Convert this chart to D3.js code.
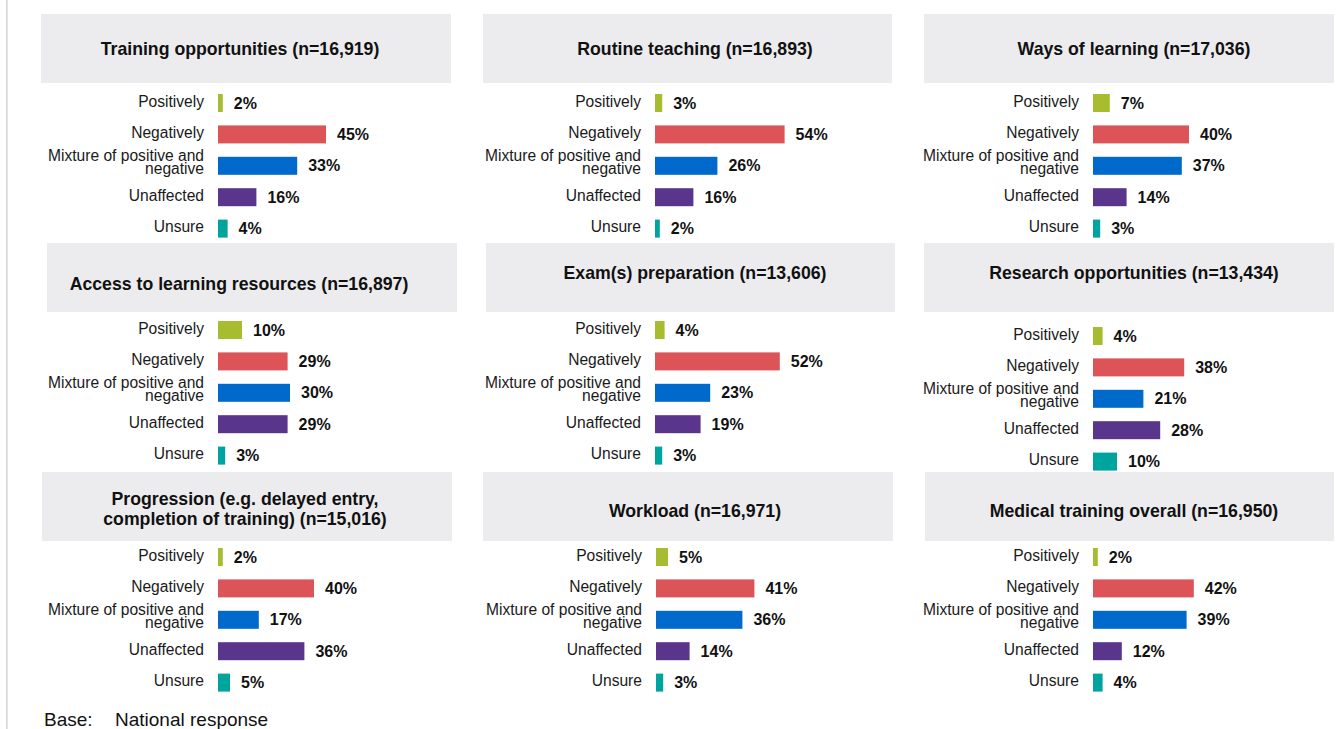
<!DOCTYPE html>
<html>
<head>
<meta charset="utf-8">
<script src="https://cdn.jsdelivr.net/npm/d3@7"></script>
<style>
  html, body { margin: 0; padding: 0; background: #ffffff; }
  svg { display: block; font-family: "Liberation Sans", Arial, Helvetica, sans-serif; }
</style>
</head>
<body>
<svg id="chart" width="1342" height="729"></svg>
<script>
// Response categories (one bar each per panel)
const categories = ["Positively", "Negatively", "Mixture of positive and negative", "Unaffected", "Unsure"];

// Panel topics and sample sizes
const topics = [
  "Training opportunities",
  "Routine teaching",
  "Ways of learning",
  "Access to learning resources",
  "Exam(s) preparation",
  "Research opportunities",
  "Progression (e.g. delayed entry, completion of training)",
  "Workload",
  "Medical training overall"
];
const sampleSizes = [16919, 16893, 17036, 16897, 13606, 13434, 15016, 16971, 16950];

// Percentage of respondents per category, one entry per topic
const positively = [2, 3, 7, 10, 4, 4, 2, 5, 2];
const negatively = [45, 54, 40, 29, 52, 38, 40, 41, 42];
const mixture    = [33, 26, 37, 30, 23, 21, 17, 36, 39];
const unaffected = [16, 16, 14, 29, 19, 28, 36, 14, 12];
const unsure     = [4, 2, 3, 3, 3, 10, 5, 3, 4];

const baseLabel = "Base:";
const baseText = "National response";

const seriesValues = [positively, negatively, mixture, unaffected, unsure];
const colors = ["#a7bd2f", "#dc5457", "#0069cc", "#5a358c", "#00a49f"];

// Placement of each panel on the page
const panelLayout = [
  { box: [41, 14, 410, 69],  titleX: 240,  titleY: 55,  barX: 218,  barTop: 94 },
  { box: [483, 14, 409, 69], titleX: 695,  titleY: 55,  barX: 655,  barTop: 94 },
  { box: [924, 14, 410, 69], titleX: 1134, titleY: 55,  barX: 1093, barTop: 94 },
  { box: [47, 243, 410, 69], titleX: 239,  titleY: 290, barX: 218,  barTop: 321 },
  { box: [486, 243, 409, 69],titleX: 695,  titleY: 279, barX: 655,  barTop: 321 },
  { box: [924, 243, 410, 69],titleX: 1134, titleY: 279, barX: 1093, barTop: 327 },
  { box: [42, 472, 410, 69], titleX: 245,  titleY: 505, barX: 218,  barTop: 548 },
  { box: [483, 472, 410, 69],titleX: 695,  titleY: 517, barX: 656,  barTop: 548 },
  { box: [925, 472, 409, 69],titleX: 1134, titleY: 517, barX: 1093, barTop: 548 }
];

const STEP = 31.4;
const BAR_H = 18;
const PX_PER_PCT = 2.4;
const TITLE_SIZE = "17.7px";
const LABEL_SIZE = "15.6px";
const VALUE_SIZE = "16px";

const svg = d3.select("#chart");
const fmt = d3.format(",");

// thin rule down the left edge
svg.append("rect").attr("x", 6).attr("y", 0).attr("width", 1.6).attr("height", 729).attr("fill", "#d6d6d6");

// wrap a string into lines no wider than maxWidth, measured with a temporary text node
function wrapLines(str, maxWidth, style) {
  const probe = svg.append("text").attr("visibility", "hidden")
    .style("font-size", style.size).style("font-weight", style.weight);
  const words = str.split(" ");
  const lines = [];
  let cur = "";
  words.forEach(w => {
    const test = cur ? cur + " " + w : w;
    probe.text(test);
    if (probe.node().getComputedTextLength() > maxWidth && cur) {
      lines.push(cur);
      cur = w;
    } else cur = test;
  });
  if (cur) lines.push(cur);
  probe.remove();
  return lines;
}

topics.forEach((topic, i) => {
  const L = panelLayout[i];
  const g = svg.append("g");

  // header box
  g.append("rect")
    .attr("x", L.box[0]).attr("y", L.box[1])
    .attr("width", L.box[2]).attr("height", L.box[3])
    .attr("fill", "#ececee");

  const title = `${topic} (n=${fmt(sampleSizes[i])})`;
  const titleLines = wrapLines(title, 350, { size: TITLE_SIZE, weight: "bold" });
  g.append("text")
    .attr("text-anchor", "middle")
    .attr("fill", "#111")
    .style("font-size", TITLE_SIZE).style("font-weight", "bold")
    .selectAll("tspan").data(titleLines).join("tspan")
    .attr("x", L.titleX)
    .attr("y", (d, k) => L.titleY + k * 20)
    .text(d => d);

  const x = d3.scaleLinear().domain([0, 100]).range([L.barX, L.barX + 100 * PX_PER_PCT]);
  const y = d3.scaleBand().domain(categories)
    .range([L.barTop, L.barTop + 4 * STEP + BAR_H])
    .paddingInner(1 - BAR_H / STEP).paddingOuter(0);

  const rows = categories.map((c, k) => ({ cat: c, value: seriesValues[k][i], color: colors[k] }));

  // bars
  g.selectAll("rect.bar").data(rows).join("rect")
    .attr("class", "bar")
    .attr("x", x(0))
    .attr("y", d => y(d.cat))
    .attr("width", d => x(d.value) - x(0))
    .attr("height", y.bandwidth())
    .attr("fill", d => d.color);

  // value labels
  g.selectAll("text.val").data(rows).join("text")
    .attr("class", "val")
    .attr("x", d => x(d.value) + 11)
    .attr("y", d => y(d.cat) + y.bandwidth() / 2 + 5.5)
    .attr("fill", "#111")
    .style("font-size", VALUE_SIZE).style("font-weight", "bold")
    .text(d => d.value + "%");

  // category labels, right-aligned against the bars
  rows.forEach(d => {
    const lines = wrapLines(d.cat, 170, { size: LABEL_SIZE, weight: "normal" });
    const cy = y(d.cat) + y.bandwidth() / 2;
    const t = g.append("text")
      .attr("text-anchor", "end")
      .attr("fill", "#1a1a1a")
      .style("font-size", LABEL_SIZE);
    if (lines.length === 1) {
      t.append("tspan").attr("x", L.barX - 14).attr("y", cy + 3.5).text(lines[0]);
    } else {
      lines.forEach((ln, k) => {
        t.append("tspan").attr("x", L.barX - 14).attr("y", cy - 5 + k * 13.5).text(ln);
      });
    }
  });
});

// base note
svg.append("text").attr("x", 44).attr("y", 726).attr("fill", "#111")
  .style("font-size", "19px").text(baseLabel);
svg.append("text").attr("x", 115).attr("y", 726).attr("fill", "#111")
  .style("font-size", "19px").text(baseText);
</script>
</body>
</html>
